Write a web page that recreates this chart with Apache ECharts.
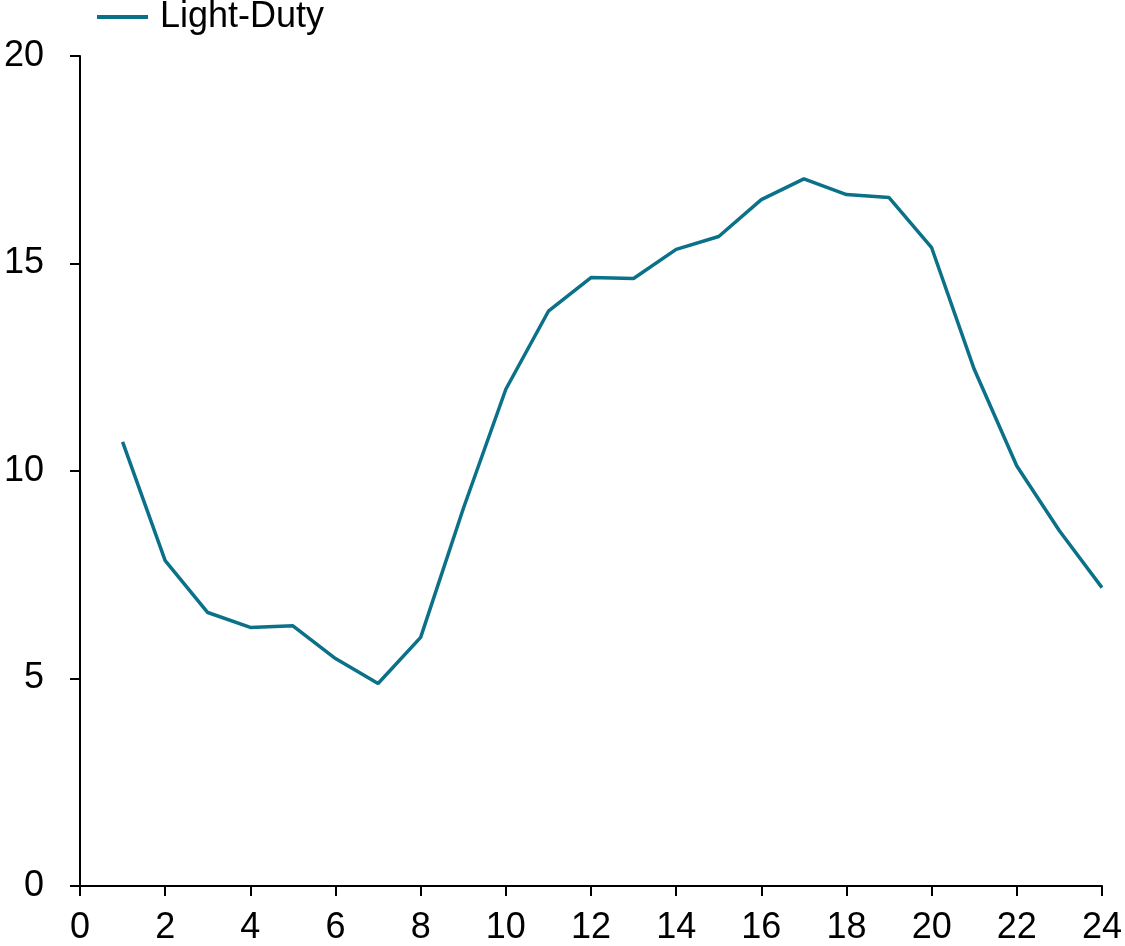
<!DOCTYPE html>
<html>
<head>
<meta charset="utf-8">
<script src="https://cdn.jsdelivr.net/npm/echarts@6/dist/echarts.min.js"></script>
<style>html,body{margin:0;padding:0;background:#fff;overflow:hidden;}#c{width:1125px;height:946px;}</style>
</head>
<body>
<div id="c"></div>
<script>
const seriesName = "Light-Duty";
const hours = [1,2,3,4,5,6,7,8,9,10,11,12,13,14,15,16,17,18,19,20,21,22,23,24];
const values = [10.70,7.84,6.59,6.23,6.27,5.48,4.88,5.99,9.09,11.97,13.85,14.66,14.64,15.34,15.65,16.54,17.04,16.66,16.59,15.38,12.45,10.12,8.56,7.19];

const chart = echarts.init(document.getElementById('c'));
const font = 'Liberation Sans, Arial, sans-serif';
chart.setOption({
  animation: false,
  backgroundColor: '#ffffff',
  legend: {
    data: [seriesName],
    left: 97, top: -1, padding: 0,
    itemWidth: 51, itemHeight: 4, itemGap: 12,
    icon: 'rect',
    textStyle: {fontFamily: font, fontSize: 36, color: '#000', padding: [0, 0, 0, 7]}
  },
  grid: {left: 80, right: 21, top: 56, bottom: 58, containLabel: false},
  xAxis: {
    type: 'value', min: 0, max: 24, interval: 2,
    axisLine: {show: true, lineStyle: {color: '#000', width: 2}},
    axisTick: {show: true, length: 10, lineStyle: {color: '#000', width: 2}},
    axisLabel: {fontFamily: font, fontSize: 36, color: '#000', margin: 24},
    splitLine: {show: false}
  },
  yAxis: {
    type: 'value', min: 0, max: 20, interval: 5,
    axisLine: {show: true, lineStyle: {color: '#000', width: 2}},
    axisTick: {show: true, length: 10, lineStyle: {color: '#000', width: 2}},
    axisLabel: {fontFamily: font, fontSize: 36, color: '#000', margin: 36},
    splitLine: {show: false}
  },
  series: [{
    name: seriesName,
    type: 'line',
    data: hours.map((h, i) => [h, values[i]]),
    showSymbol: false,
    symbol: 'none',
    lineStyle: {color: '#0B7189', width: 3.5},
    itemStyle: {color: '#0B7189'}
  }]
});
</script>
</body>
</html>
